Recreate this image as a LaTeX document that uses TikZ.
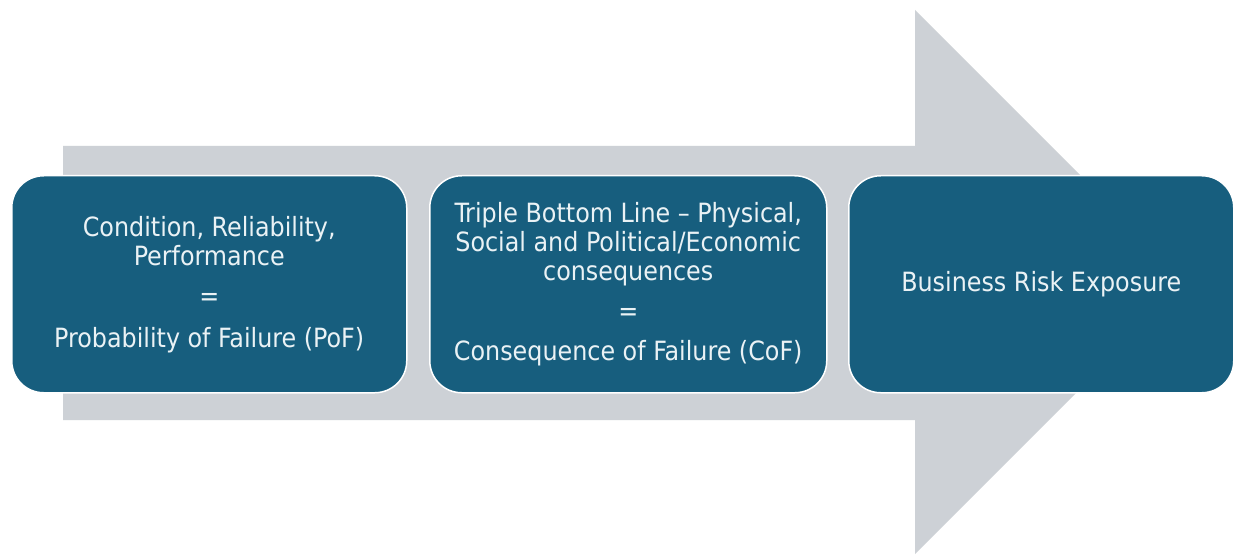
\documentclass[tikz,border=0pt]{standalone}
\usepackage{fontspec}
\setmainfont{DejaVu Sans Condensed}
\definecolor{boxblue}{HTML}{175E7E}
\definecolor{arrowgray}{HTML}{CDD1D6}
\definecolor{txt}{HTML}{EAF2F5}
\begin{document}
\begin{tikzpicture}[x=1pt,y=-1pt,
  stagebox/.style={draw=white, line width=1.5pt, fill=boxblue, rounded corners=32pt,
    text=txt, align=center, anchor=north west, inner sep=0pt,
    font=\fontsize{26.5}{29}\selectfont},
  bigarrow/.style={fill=arrowgray, draw=none}]
\useasboundingbox (0,0) rectangle (1241,556);
\fill[white] (0,0) rectangle (1241,556);
\path[bigarrow] (63,146) -- (915,146) -- (915,10) -- (1187,282) -- (915,554) -- (915,420) -- (63,420) -- cycle;
\node[stagebox, minimum width=395pt, minimum height=217pt] (pof) at (11,175)
  {Condition, Reliability,\\ Performance\\[11pt] =\\[13pt] Probability of Failure (PoF)};
\node[stagebox, minimum width=397pt, minimum height=217pt] (cof) at (429,175)
  {Triple Bottom Line -- Physical,\\ Social and Political/Economic\\ consequences\\[11pt] =\\[11pt] Consequence of Failure (CoF)};
\node[stagebox, minimum width=385pt, minimum height=217pt] (bre) at (848,175)
  {Business Risk Exposure};
\end{tikzpicture}
\end{document}
